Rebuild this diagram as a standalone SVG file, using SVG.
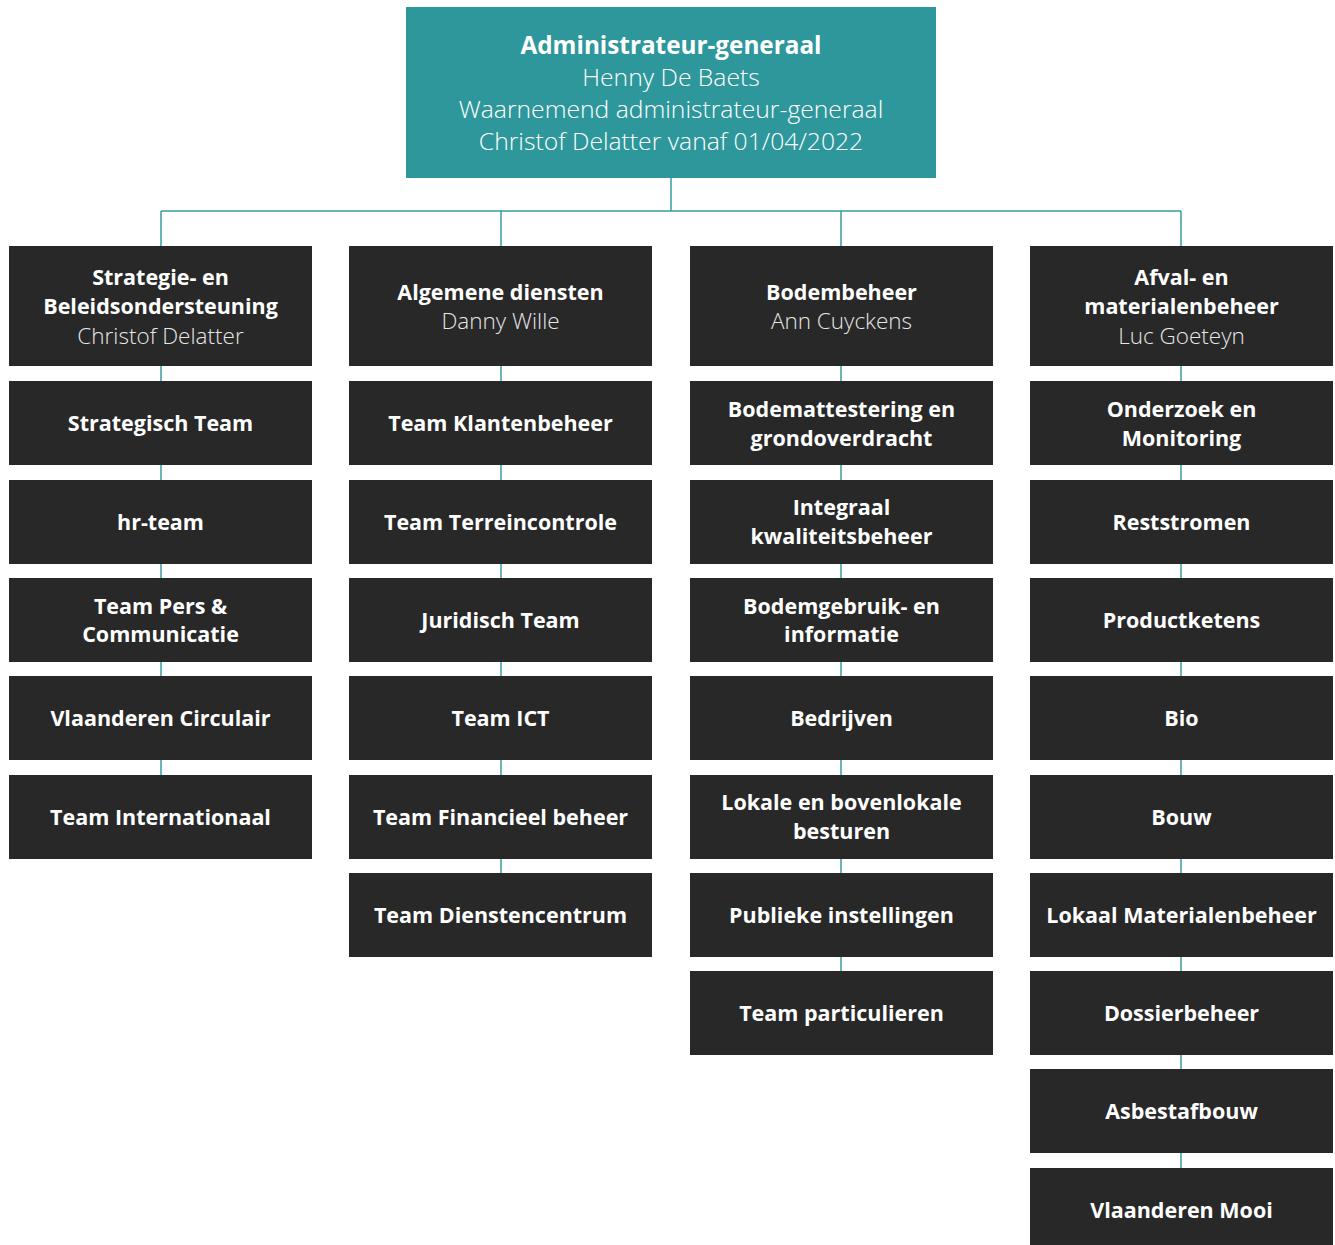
<svg xmlns="http://www.w3.org/2000/svg" width="1335" height="1245" viewBox="0 0 1335 1245">
<style>
.box{fill:#282828}
.top{fill:#2e979b}
.conn{stroke:#3a9ca0;stroke-width:1.5;fill:none}
text{font-family:"Open Sans","Noto Sans",sans-serif;text-anchor:middle;fill:#ffffff}
.b{font-weight:700;font-size:21.5px}
.l{font-weight:300;font-size:22.5px;fill:#e6e6e6}
.tb{font-weight:700;font-size:24.3px}
.tl{font-weight:300;font-size:24.7px}
</style>
<rect width="1335" height="1245" fill="#ffffff"/>
<g id="connectors">
<path class="conn" d="M671 178V211M161 211H1181M161 211V246M501 211V246M841 211V246M1181 211V246"/>
<path class="conn" d="M161 366V775"/>
<path class="conn" d="M501 366V873"/>
<path class="conn" d="M841 366V971"/>
<path class="conn" d="M1181 366V1168"/>
</g>
<g id="n-top">
<rect class="top" x="406" y="7" width="530" height="171"/>
<text class="tb" x="671" y="54">Administrateur-generaal</text>
<text class="tl" x="671" y="86">Henny De Baets</text>
<text class="tl" x="671" y="118">Waarnemend administrateur-generaal</text>
<text class="tl" x="671" y="150">Christof Delatter vanaf 01/04/2022</text>
</g>
<g id="n-c1h"><rect class="box" x="9" y="246" width="303" height="120"/>
<text class="b" x="160.5" y="285">Strategie- en</text><text class="b" x="160.5" y="314">Beleidsondersteuning</text><text class="l" x="160.5" y="344">Christof Delatter</text></g>
<g id="n-c2h"><rect class="box" x="349" y="246" width="303" height="120"/>
<text class="b" x="500.5" y="300">Algemene diensten</text><text class="l" x="500.5" y="329">Danny Wille</text></g>
<g id="n-c3h"><rect class="box" x="690" y="246" width="303" height="120"/>
<text class="b" x="841.5" y="300">Bodembeheer</text><text class="l" x="841.5" y="329">Ann Cuyckens</text></g>
<g id="n-c4h"><rect class="box" x="1030" y="246" width="303" height="120"/>
<text class="b" x="1181.5" y="285">Afval- en</text><text class="b" x="1181.5" y="314">materialenbeheer</text><text class="l" x="1181.5" y="344">Luc Goeteyn</text></g>

<g id="n-c1-1"><rect class="box" x="9" y="381" width="303" height="84"/><text class="b" x="160.5" y="431">Strategisch Team</text></g>
<g id="n-c1-2"><rect class="box" x="9" y="480" width="303" height="84"/><text class="b" x="160.5" y="530">hr-team</text></g>
<g id="n-c1-3"><rect class="box" x="9" y="578" width="303" height="84"/><text class="b" x="160.5" y="614">Team Pers &amp;</text><text class="b" x="160.5" y="642">Communicatie</text></g>
<g id="n-c1-4"><rect class="box" x="9" y="676" width="303" height="84"/><text class="b" x="160.5" y="726">Vlaanderen Circulair</text></g>
<g id="n-c1-5"><rect class="box" x="9" y="775" width="303" height="84"/><text class="b" x="160.5" y="825">Team Internationaal</text></g>

<g id="n-c2-1"><rect class="box" x="349" y="381" width="303" height="84"/><text class="b" x="500.5" y="431">Team Klantenbeheer</text></g>
<g id="n-c2-2"><rect class="box" x="349" y="480" width="303" height="84"/><text class="b" x="500.5" y="530">Team Terreincontrole</text></g>
<g id="n-c2-3"><rect class="box" x="349" y="578" width="303" height="84"/><text class="b" x="500.5" y="628">Juridisch Team</text></g>
<g id="n-c2-4"><rect class="box" x="349" y="676" width="303" height="84"/><text class="b" x="500.5" y="726">Team ICT</text></g>
<g id="n-c2-5"><rect class="box" x="349" y="775" width="303" height="84"/><text class="b" x="500.5" y="825">Team Financieel beheer</text></g>
<g id="n-c2-6"><rect class="box" x="349" y="873" width="303" height="84"/><text class="b" x="500.5" y="923">Team Dienstencentrum</text></g>

<g id="n-c3-1"><rect class="box" x="690" y="381" width="303" height="84"/><text class="b" x="841.5" y="417">Bodemattestering en</text><text class="b" x="841.5" y="446">grondoverdracht</text></g>
<g id="n-c3-2"><rect class="box" x="690" y="480" width="303" height="84"/><text class="b" x="841.5" y="515">Integraal</text><text class="b" x="841.5" y="544">kwaliteitsbeheer</text></g>
<g id="n-c3-3"><rect class="box" x="690" y="578" width="303" height="84"/><text class="b" x="841.5" y="614">Bodemgebruik- en</text><text class="b" x="841.5" y="642">informatie</text></g>
<g id="n-c3-4"><rect class="box" x="690" y="676" width="303" height="84"/><text class="b" x="841.5" y="726">Bedrijven</text></g>
<g id="n-c3-5"><rect class="box" x="690" y="775" width="303" height="84"/><text class="b" x="841.5" y="810">Lokale en bovenlokale</text><text class="b" x="841.5" y="839">besturen</text></g>
<g id="n-c3-6"><rect class="box" x="690" y="873" width="303" height="84"/><text class="b" x="841.5" y="923">Publieke instellingen</text></g>
<g id="n-c3-7"><rect class="box" x="690" y="971" width="303" height="84"/><text class="b" x="841.5" y="1021">Team particulieren</text></g>

<g id="n-c4-1"><rect class="box" x="1030" y="381" width="303" height="84"/><text class="b" x="1181.5" y="417">Onderzoek en</text><text class="b" x="1181.5" y="446">Monitoring</text></g>
<g id="n-c4-2"><rect class="box" x="1030" y="480" width="303" height="84"/><text class="b" x="1181.5" y="530">Reststromen</text></g>
<g id="n-c4-3"><rect class="box" x="1030" y="578" width="303" height="84"/><text class="b" x="1181.5" y="628">Productketens</text></g>
<g id="n-c4-4"><rect class="box" x="1030" y="676" width="303" height="84"/><text class="b" x="1181.5" y="726">Bio</text></g>
<g id="n-c4-5"><rect class="box" x="1030" y="775" width="303" height="84"/><text class="b" x="1181.5" y="825">Bouw</text></g>
<g id="n-c4-6"><rect class="box" x="1030" y="873" width="303" height="84"/><text class="b" x="1181.5" y="923">Lokaal Materialenbeheer</text></g>
<g id="n-c4-7"><rect class="box" x="1030" y="971" width="303" height="84"/><text class="b" x="1181.5" y="1021">Dossierbeheer</text></g>
<g id="n-c4-8"><rect class="box" x="1030" y="1069" width="303" height="84"/><text class="b" x="1181.5" y="1119">Asbestafbouw</text></g>
<g id="n-c4-9"><rect class="box" x="1030" y="1168" width="303" height="84"/><text class="b" x="1181.5" y="1218">Vlaanderen Mooi</text></g>
</svg>
